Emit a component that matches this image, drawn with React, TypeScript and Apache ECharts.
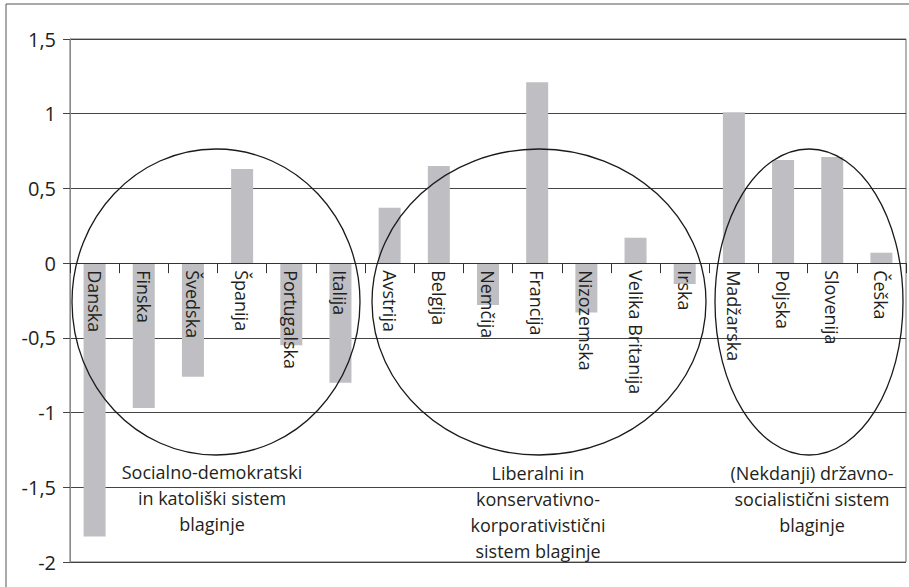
import React, { useEffect, useRef } from "react";
import * as echarts from "echarts";

const categories = [
  "Danska", "Finska", "Švedska", "Španija", "Portugalska", "Italija",
  "Avstrija", "Belgija", "Nemčija", "Francija", "Nizozemska", "Velika Britanija", "Irska",
  "Madžarska", "Poljska", "Slovenija", "Češka",
];
const values = [
  -1.83, -0.97, -0.76, 0.63, -0.55, -0.8,
  0.37, 0.65, -0.28, 1.21, -0.33, 0.17, -0.14,
  1.01, 0.69, 0.71, 0.07,
];
const yTicks = { min: -2, max: 1.5, interval: 0.5 };
const groupLabels = [
  "Socialno-demokratski\nin katoliški sistem\nblaginje",
  "Liberalni in\nkonservativno-\nkorporativistični\nsistem blaginje",
  "(Nekdanji) državno-\nsocialistični sistem\nblaginje",
];

const FONT = '"Open Sans", "Noto Sans", sans-serif';
const W = 909;
const H = 587;
const GRID = { left: 70, right: 3, top: 39, bottom: 25 };

export default function App() {
  const ref = useRef<HTMLDivElement>(null);
  useEffect(() => {
    if (!ref.current) return;
    const chart = echarts.init(ref.current, null, { renderer: "svg" });
    const gridH = H - GRID.top - GRID.bottom;
    // move the category axis up to the value 0
    const zeroOffset = -gridH * (0 - yTicks.min) / (yTicks.max - yTicks.min);
    chart.setOption({
      animation: false,
      backgroundColor: "#ffffff",
      grid: {
        ...GRID,
        containLabel: false,
        outerBoundsMode: "none",
        show: true,
        borderColor: "#6a6a6a",
        borderWidth: 1,
      },
      xAxis: {
        type: "category",
        data: categories,
        position: "bottom",
        offset: zeroOffset,
        axisLine: { onZero: false, lineStyle: { color: "#333", width: 1 } },
        axisTick: { show: true, length: 10, lineStyle: { color: "#333" } },
        axisLabel: {
          rotate: -90,
          margin: 7,
          interval: 0,
          fontFamily: FONT,
          fontSize: 18,
          color: "#231f20",
        },
        z: 5,
      },
      yAxis: {
        type: "value",
        min: yTicks.min,
        max: yTicks.max,
        interval: yTicks.interval,
        axisLine: { show: true, lineStyle: { color: "#8a8a8a", width: 1 } },
        axisTick: { show: true, length: 7, lineStyle: { color: "#444" } },
        splitLine: { show: true, lineStyle: { color: "#444", width: 1 } },
        axisLabel: {
          margin: 14,
          fontFamily: FONT,
          fontSize: 20,
          color: "#231f20",
          formatter: (v: number) => String(v).replace(".", ","),
        },
      },
      series: [
        {
          type: "bar",
          data: values,
          barWidth: 22,
          itemStyle: { color: "#bfbfc3" },
          z: 1,
        },
      ],
      graphic: [
        {
          type: "rect",
          shape: { x: 6, y: 4, width: 940, height: 640 },
          style: { fill: "none", stroke: "#555", lineWidth: 1 },
          z: 100,
        },
        {
          type: "ellipse",
          shape: { cx: 216, cy: 302, rx: 144, ry: 153 },
          style: { fill: "none", stroke: "#1a1a1a", lineWidth: 1.3 },
          z: 100,
        },
        {
          type: "ellipse",
          shape: { cx: 539, cy: 302, rx: 167, ry: 153 },
          style: { fill: "none", stroke: "#1a1a1a", lineWidth: 1.3 },
          z: 100,
        },
        {
          type: "ellipse",
          shape: { cx: 809, cy: 302, rx: 94, ry: 153 },
          style: { fill: "none", stroke: "#1a1a1a", lineWidth: 1.3 },
          z: 100,
        },
        {
          type: "text",
          x: 212,
          y: 459,
          style: {
            text: groupLabels[0],
            align: "center",
            verticalAlign: "top",
            font: `18px ${FONT}`,
            lineHeight: 26,
            fill: "#231f20",
          },
          z: 100,
        },
        {
          type: "text",
          x: 538,
          y: 460,
          style: {
            text: groupLabels[1],
            align: "center",
            verticalAlign: "top",
            font: `18px ${FONT}`,
            lineHeight: 26,
            fill: "#231f20",
          },
          z: 100,
        },
        {
          type: "text",
          x: 812,
          y: 460,
          style: {
            text: groupLabels[2],
            align: "center",
            verticalAlign: "top",
            font: `18px ${FONT}`,
            lineHeight: 26,
            fill: "#231f20",
          },
          z: 100,
        },
      ],
    });
    return () => chart.dispose();
  }, []);
  return (
    <div
      ref={ref}
      style={{ position: "fixed", left: 0, top: 0, width: W, height: H, background: "#fff" }}
    />
  );
}
